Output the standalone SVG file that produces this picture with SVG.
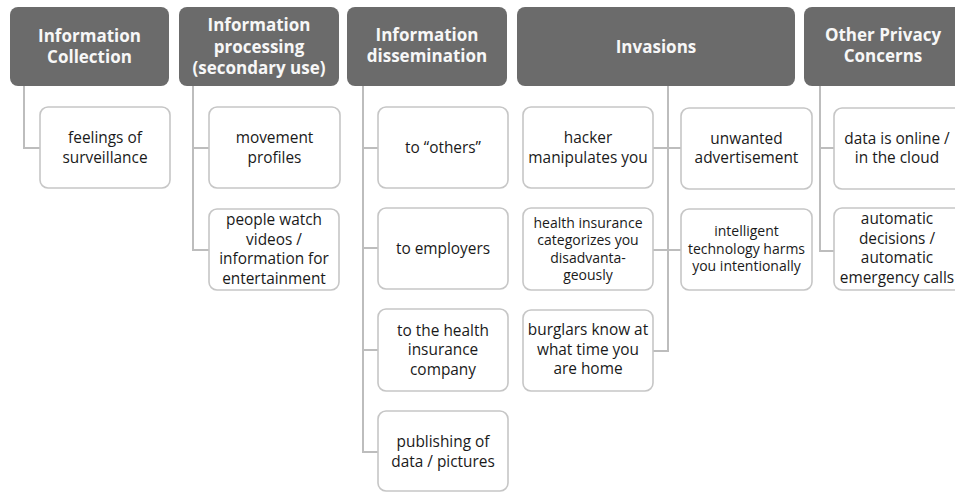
<svg xmlns="http://www.w3.org/2000/svg" width="955" height="492" viewBox="0 0 955 492">
  <style>
    .hdr rect { fill: #6b6b6b; }
    .hdr text { fill: #f7f7f7; font-family: "Open Sans", "Noto Sans", sans-serif; font-weight: bold; font-size: 17px; text-anchor: middle; }
    .item rect { fill: #ffffff; stroke: #c6c6c6; stroke-width: 1.6; }
    .item text { fill: #1a1a1a; font-family: "Open Sans", "Noto Sans", sans-serif; font-size: 15.4px; text-anchor: middle; }
    .item text.small { font-size: 14px; }
    .links path { fill: none; stroke: #bdbdbd; stroke-width: 2; }
  </style>
  <rect width="955" height="492" fill="#ffffff"/>

  <!-- connectors -->
  <g class="links">
    <path d="M24 86 V148 H40"/>
    <path d="M193 86 V250 H209 M193 148 H209"/>
    <path d="M363 86 V452 H378 M363 148 H378 M363 248 H378 M363 350 H378"/>
    <path d="M668 86 V351 H653 M653 148 H681 M653 250 H681"/>
    <path d="M820 86 V251 H834 M820 148 H834"/>
  </g>

  <!-- category headers -->
  <g id="h-collection" class="hdr">
    <rect x="10" y="7" width="159" height="79" rx="8"/>
    <text x="89.5" y="42">Information</text>
    <text x="89.5" y="63">Collection</text>
  </g>
  <g id="h-processing" class="hdr">
    <rect x="179" y="7" width="160" height="79" rx="8"/>
    <text x="259" y="31">Information</text>
    <text x="259" y="52.5">processing</text>
    <text x="259" y="74">(secondary use)</text>
  </g>
  <g id="h-dissemination" class="hdr">
    <rect x="347" y="7" width="160" height="79" rx="8"/>
    <text x="427" y="41">Information</text>
    <text x="427" y="62">dissemination</text>
  </g>
  <g id="h-invasions" class="hdr">
    <rect x="517" y="7" width="278" height="79" rx="8"/>
    <text x="656" y="52.5">Invasions</text>
  </g>
  <g id="h-other" class="hdr">
    <rect x="804" y="7" width="158" height="79" rx="8"/>
    <text x="883" y="41">Other Privacy</text>
    <text x="883" y="62">Concerns</text>
  </g>

  <!-- Information Collection -->
  <g id="n-feelings" class="item">
    <rect x="40" y="107" width="130" height="81" rx="8"/>
    <text x="105" y="143">feelings of</text>
    <text x="105" y="162.5">surveillance</text>
  </g>

  <!-- Information processing -->
  <g id="n-movement" class="item">
    <rect x="209" y="107" width="131" height="81" rx="8"/>
    <text x="274.5" y="143">movement</text>
    <text x="274.5" y="162.5">profiles</text>
  </g>
  <g id="n-videos" class="item">
    <rect x="209" y="209" width="130" height="81" rx="8"/>
    <text x="274" y="225">people watch</text>
    <text x="274" y="244.5">videos /</text>
    <text x="274" y="264">information for</text>
    <text x="274" y="283.5">entertainment</text>
  </g>

  <!-- Information dissemination -->
  <g id="n-others" class="item">
    <rect x="378" y="107" width="130" height="81" rx="8"/>
    <text x="443" y="153">to “others”</text>
  </g>
  <g id="n-employers" class="item">
    <rect x="378" y="208" width="130" height="81" rx="8"/>
    <text x="443" y="253.5">to employers</text>
  </g>
  <g id="n-insurer" class="item">
    <rect x="378" y="309" width="130" height="82" rx="8"/>
    <text x="443" y="335.5">to the health</text>
    <text x="443" y="355">insurance</text>
    <text x="443" y="374.5">company</text>
  </g>
  <g id="n-publishing" class="item">
    <rect x="378" y="411" width="130" height="80" rx="8"/>
    <text x="443" y="447">publishing of</text>
    <text x="443" y="466.5">data / pictures</text>
  </g>

  <!-- Invasions -->
  <g id="n-hacker" class="item">
    <rect x="523" y="107" width="130" height="81" rx="8"/>
    <text x="588" y="143">hacker</text>
    <text x="588" y="162.5">manipulates you</text>
  </g>
  <g id="n-categorizes" class="item">
    <rect x="523" y="208" width="130" height="82" rx="8"/>
    <text class="small" x="588" y="227.5">health insurance</text>
    <text class="small" x="588" y="245">categorizes you</text>
    <text class="small" x="588" y="262.5">disadvanta-</text>
    <text class="small" x="588" y="280">geously</text>
  </g>
  <g id="n-burglars" class="item">
    <rect x="523" y="310" width="130" height="81" rx="8"/>
    <text x="588" y="335">burglars know at</text>
    <text x="588" y="354.5">what time you</text>
    <text x="588" y="374">are home</text>
  </g>
  <g id="n-advertisement" class="item">
    <rect x="681" y="108" width="131" height="81" rx="8"/>
    <text x="746.5" y="143.5">unwanted</text>
    <text x="746.5" y="163">advertisement</text>
  </g>
  <g id="n-harms" class="item">
    <rect x="681" y="209" width="131" height="81" rx="8"/>
    <text class="small" x="746.5" y="236">intelligent</text>
    <text class="small" x="746.5" y="253.5">technology harms</text>
    <text class="small" x="746.5" y="271">you intentionally</text>
  </g>

  <!-- Other Privacy Concerns -->
  <g id="n-cloud" class="item">
    <rect x="834" y="108" width="128" height="81" rx="8"/>
    <text x="897" y="143.5">data is online /</text>
    <text x="897" y="163">in the cloud</text>
  </g>
  <g id="n-automatic" class="item">
    <rect x="834" y="208" width="128" height="82" rx="8"/>
    <text x="897" y="224">automatic</text>
    <text x="897" y="243.5">decisions /</text>
    <text x="897" y="263">automatic</text>
    <text x="897" y="282.5">emergency calls</text>
  </g>
</svg>
